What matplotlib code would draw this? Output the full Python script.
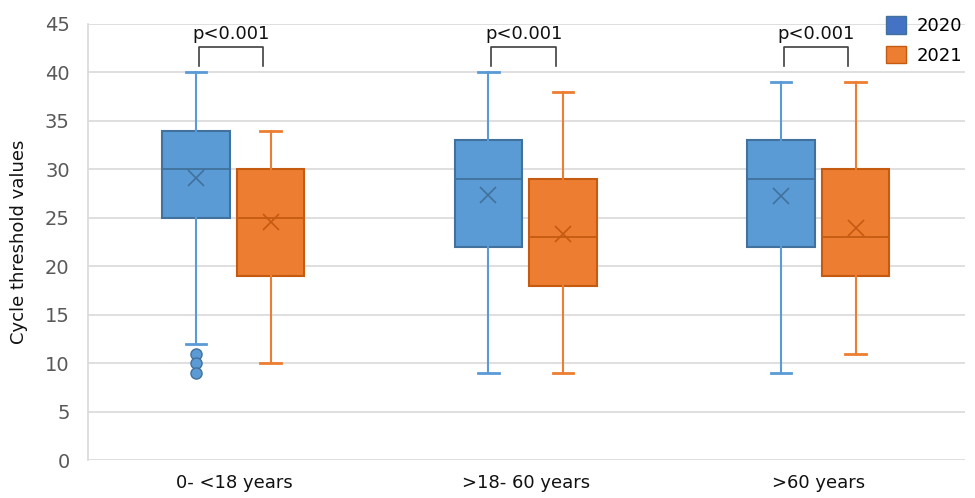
import matplotlib
matplotlib.use("Agg")
import matplotlib.pyplot as plt
from matplotlib.patches import Patch

# Data
groups = ["0- <18 years", ">18- 60 years", ">60 years"]
years = ["2020", "2021"]

whislo = {"2020": [12, 9, 9], "2021": [10, 9, 11]}
q1 = {"2020": [25, 22, 22], "2021": [19, 18, 19]}
med = {"2020": [30, 29, 29], "2021": [25, 23, 23]}
q3 = {"2020": [34, 33, 33], "2021": [30, 29, 30]}
whishi = {"2020": [40, 40, 39], "2021": [34, 38, 39]}
mean = {"2020": [29.1, 27.3, 27.2], "2021": [24.6, 23.3, 23.9]}
fliers = {"2020": [[11, 10, 9], [], []], "2021": [[], [], []]}
pvalues = ["p<0.001", "p<0.001", "p<0.001"]

fill = {"2020": "#5B9BD5", "2021": "#ED7D31"}
edge = {"2020": "#41719C", "2021": "#C55A11"}
legend_col = {"2020": "#4472C4", "2021": "#ED7D31"}

fig = plt.figure(figsize=(9.75, 4.98), dpi=100)
ax = fig.add_axes([0.090, 0.076, 0.900, 0.876])

width = 0.232
offset = {"2020": -0.13, "2021": 0.125}

for yr in years:
    stats = []
    for i in range(len(groups)):
        stats.append(dict(whislo=whislo[yr][i], q1=q1[yr][i], med=med[yr][i],
                          q3=q3[yr][i], whishi=whishi[yr][i], mean=mean[yr][i],
                          fliers=fliers[yr][i]))
    pos = [i + offset[yr] for i in range(len(groups))]
    ax.bxp(stats, positions=pos, widths=width, patch_artist=True, showmeans=True,
           boxprops=dict(facecolor=fill[yr], edgecolor=edge[yr], linewidth=1.5),
           medianprops=dict(color=edge[yr], linewidth=1.3),
           whiskerprops=dict(color=fill[yr], linewidth=1.5),
           capprops=dict(color=fill[yr], linewidth=2),
           meanprops=dict(marker="x", markeredgecolor=edge[yr], markersize=12,
                          markeredgewidth=1.2),
           flierprops=dict(marker="o", markerfacecolor=fill[yr],
                           markeredgecolor=edge[yr], markersize=8),
           capwidths=0.07, manage_ticks=False)

# significance brackets
for i, p in enumerate(pvalues):
    x0 = i + offset["2020"] + 0.01
    x1 = i + offset["2021"] - 0.025
    ax.plot([x0, x0, x1, x1], [40.7, 42.6, 42.6, 40.7], color="#404040", lw=1.2)
    ax.text((x0 + x1) / 2, 43.0, p, ha="center", va="bottom", fontsize=13, color="#111111")

ax.set_xlim(-0.5, 2.5)
ax.set_ylim(0, 45)
ax.set_yticks(range(0, 46, 5))
ax.set_xticks(range(len(groups)))
ax.set_xticklabels(groups, fontsize=13)
ax.tick_params(axis="y", labelsize=14, length=0, colors="#595959", pad=13)
ax.tick_params(axis="x", length=0, pad=10)
for lbl in ax.get_xticklabels():
    lbl.set_color("#111111")
ax.yaxis.grid(True, color="#D9D9D9", linewidth=1.2)
ax.set_axisbelow(True)
for s in ax.spines.values():
    s.set_visible(False)
ax.spines["left"].set_visible(True)
ax.spines["left"].set_color("#D9D9D9")
ax.spines["left"].set_linewidth(1.2)
ax.set_ylabel("Cycle threshold values", fontsize=13, color="#111111", labelpad=12)

handles = [Patch(facecolor=legend_col[y], edgecolor=edge[y], label=y) for y in years]
fig.legend(handles=handles, loc="upper right", bbox_to_anchor=(1.004, 1.0), frameon=False,
           fontsize=13, handlelength=1.1, handleheight=1.1, handletextpad=0.6,
           labelspacing=0.6)

fig.savefig("out.png", dpi=100)
